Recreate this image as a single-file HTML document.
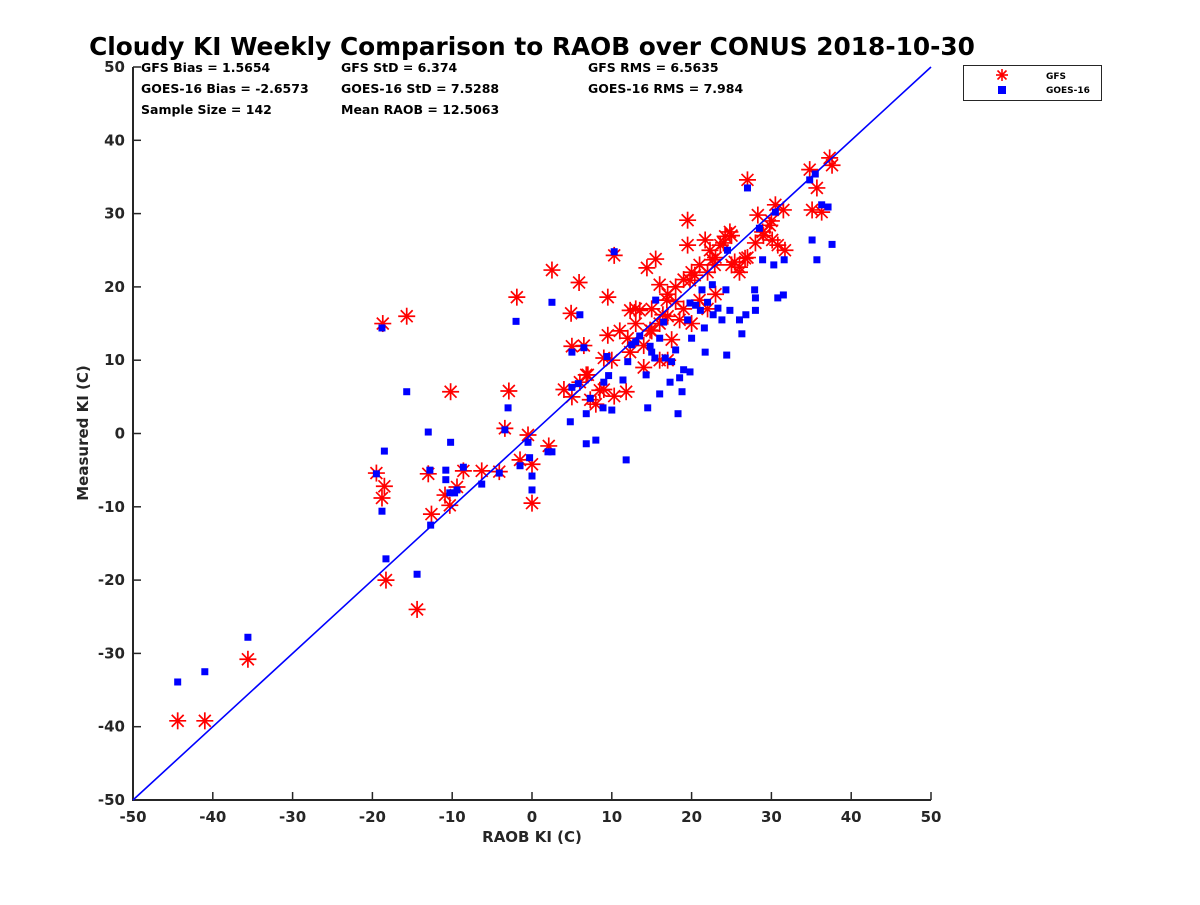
<!DOCTYPE html>
<html><head><meta charset="utf-8"><style>
body{margin:0;background:#fff;}
svg text{font-family:"DejaVu Sans","Liberation Sans",sans-serif;font-weight:bold;}
</style></head><body>
<svg id="chart" width="1200" height="900" xmlns="http://www.w3.org/2000/svg">
<rect width="1200" height="900" fill="#fff"/>
<text x="532" y="55" text-anchor="middle" font-size="24.8" fill="#000">Cloudy KI Weekly Comparison to RAOB over CONUS 2018-10-30</text>
<g font-size="12.5" fill="#000">
<text x="141" y="72">GFS Bias = 1.5654</text>
<text x="141" y="93">GOES-16 Bias = -2.6573</text>
<text x="141" y="114">Sample Size = 142</text>
<text x="341" y="72">GFS StD = 6.374</text>
<text x="341" y="93">GOES-16 StD = 7.5288</text>
<text x="341" y="114">Mean RAOB = 12.5063</text>
<text x="588" y="72">GFS RMS = 6.5635</text>
<text x="588" y="93">GOES-16 RMS = 7.984</text>
</g>
<g id="axes"></g>
<g id="marks"></g>
<g>
<rect x="963.5" y="65.5" width="138" height="35" fill="#fff" stroke="#262626" stroke-width="1"/>
<g stroke="red" stroke-width="1.6"><line x1="1002" y1="69" x2="1002" y2="81"/><line x1="996" y1="75" x2="1008" y2="75"/><line x1="997.5" y1="70.5" x2="1006.5" y2="79.5"/><line x1="997.5" y1="79.5" x2="1006.5" y2="70.5"/></g>
<rect x="998" y="86" width="8" height="8" fill="#0000ff"/>
<text x="1046" y="79" font-size="9">GFS</text>
<text x="1046" y="93" font-size="9">GOES-16</text>
</g>
</svg>
<script>
const xTicks=[-50,-40,-30,-20,-10,0,10,20,30,40,50];
const yTicks=[-50,-40,-30,-20,-10,0,10,20,30,40,50];
const gfsX=[-44.4,-41,-35.6,-14.4,-18.3,-18.7,-15.7,-10.2,-19.5,-18.5,-18.8,-13,-12.6,-10.9,-10.3,-9.4,-8.6,-6.3,-4.1,-3.4,-2.9,-1.9,-1.5,-0.5,0,0,2.1,2.5,4.9,5,5.9,6.5,6.8,7.3,8.5,9,9.5,9.5,10.3,10.3,11.8,12.3,12.3,13.5,14.4,14.8,15.5,16,16.4,16.9,17.5,18.5,19.5,19.5,19.8,20.4,21,21.7,22.3,22.6,22.9,23.6,24.2,24.8,25.4,26,26.7,27,28.3,28.9,29.8,30.1,30.5,30.8,31.5,31.7,34.8,35.1,35.7,36.3,37.3,37.6,20,18,16,17,14,15,19,22,23,25,13,11,9,8,12,18,24,27,30,14,16,17,6,7,4,5,19,21,20,22,23,25,26,28,29,15,17,13,10];
const gfsY=[-39.2,-39.2,-30.8,-24,-20,15,16,5.7,-5.4,-7.2,-8.8,-5.5,-11,-8.4,-9.8,-7.3,-5.1,-5.1,-5.2,0.7,5.8,18.6,-3.6,-0.2,-4.2,-9.5,-1.7,22.3,16.4,11.9,20.6,12,8,4.6,5.9,10.3,18.6,13.4,24.3,5.1,5.7,11.1,16.8,16.8,22.6,14.1,23.8,20.3,16.2,18.2,12.8,15.5,29.1,25.7,20.9,21.6,18.2,26.4,25,23.7,23,25.7,26.9,27.5,23.4,22.7,23.9,34.6,29.8,27.5,28.4,26.4,31.2,25.7,30.5,25,36,30.5,33.5,30.2,37.6,36.6,22,18,15,16,12,14,17,22,24,27,17,14,6,4,13,20,26,24,29,9,10,10,7,8,6,5,21,23,15,17,19,23,22,26,27,17,19,15,10];
const goesX=[-44.4,-41,-35.6,-14.4,-18.3,-18.8,-15.7,-13,-18.5,-19.5,-18.8,-12.7,-12.8,-10.8,-10.8,-10.2,-10.3,-9.7,-9.4,-8.6,-6.3,-4.1,-3.4,-3,-2,-1.5,-0.5,-0.3,0,0,2,2.5,2.5,4.8,5,5,6,5.8,6.5,6.8,6.8,7.3,8,8.9,9,9.4,9.6,10,10.3,11.4,11.8,12,12.5,13,13.5,14.3,14.5,14.8,15,15.4,15.5,16,16,16.5,16.7,17.3,17.5,18,18.3,18.5,18.8,19,19.5,19.8,20,19.8,20.5,21.1,21.3,21.6,21.7,22,22.6,22.7,23.3,23.8,24.3,24.4,24.5,24.8,26,26.3,26.8,27,27.9,28,28,28.5,28.9,30.3,30.5,30.8,31.5,31.6,34.8,35.1,35.5,35.7,36.3,37.1,37.6];
const goesY=[-33.9,-32.5,-27.8,-19.2,-17.1,14.4,5.7,0.2,-2.4,-5.5,-10.6,-12.5,-5,-6.3,-5,-1.2,-8.1,-8.1,-7.7,-4.6,-6.9,-5.4,0.5,3.5,15.3,-4.4,-1.2,-3.3,-5.8,-7.7,-2.5,-2.5,17.9,1.6,6.3,11.1,16.2,6.8,11.7,2.7,-1.4,4.8,-0.9,3.5,7,10.5,7.9,3.2,24.8,7.3,-3.6,9.8,12.1,12.5,13.3,8,3.5,11.9,11.1,10.3,18.2,5.4,13,15.2,10.3,7,9.8,11.4,2.7,7.6,5.7,8.7,15.5,17.8,13,8.4,17.5,16.8,19.6,14.4,11.1,17.9,20.3,16.2,17.1,15.5,19.6,10.7,25,16.8,15.5,13.6,16.2,33.5,19.6,18.5,16.8,28,23.7,23,30.2,18.5,18.9,23.7,34.6,26.4,35.4,23.7,31.2,30.9,25.8];

const NS='http://www.w3.org/2000/svg';
const X0=133,X1=931,Y0=800,Y1=67;
function sx(v){return X0+(v+50)/100*(X1-X0);}
function sy(v){return Y0-(v+50)/100*(Y0-Y1);}
function mk(tag,attrs,parent){const e=document.createElementNS(NS,tag);for(const k in attrs)e.setAttribute(k,attrs[k]);parent.appendChild(e);return e;}
const axes=document.getElementById('axes'),marks=document.getElementById('marks');
xTicks.forEach(t=>{
  let l=mk('line',{x1:sx(t),y1:Y0,x2:sx(t),y2:Y0-8,stroke:'#262626','stroke-width':1.5},axes);
  
  
  let tx=mk('text',{x:sx(t),y:Y0+22,'text-anchor':'middle','font-size':15,fill:'#262626'},axes);
  tx.textContent=t;
  
  
});
yTicks.forEach(t=>{
  let l=mk('line',{x1:X0,y1:sy(t),x2:X0+8,y2:sy(t),stroke:'#262626','stroke-width':1.5},axes);
  
  
  let tx=mk('text',{x:X0-8,y:sy(t)+5,'text-anchor':'end','font-size':15,fill:'#262626'},axes);
  tx.textContent=t;
  
  
});
let xa=mk('line',{x1:X0-1,y1:Y0,x2:X1,y2:Y0,stroke:'#262626','stroke-width':2},axes);


let ya=mk('line',{x1:X0,y1:Y0+1,x2:X0,y2:Y1,stroke:'#262626','stroke-width':2},axes);


let xl=mk('text',{x:532,y:842,'text-anchor':'middle','font-size':15,fill:'#262626'},axes);
xl.textContent='RAOB KI (C)';


let yl=mk('text',{x:88,y:433,'text-anchor':'middle','font-size':15,fill:'#262626',transform:'rotate(-90 88 433)'},axes);
yl.textContent='Measured KI (C)';


gfsX.forEach((x,i)=>{
  const cx=sx(x),cy=sy(gfsY[i]),r=8.5;
  const g=mk('g',{stroke:'red','stroke-width':1.7},marks);
  
  
  mk('line',{x1:cx,y1:cy-r,x2:cx,y2:cy+r},g);
  mk('line',{x1:cx-r,y1:cy,x2:cx+r,y2:cy},g);
  mk('line',{x1:cx-r*.7,y1:cy-r*.7,x2:cx+r*.7,y2:cy+r*.7},g);
  mk('line',{x1:cx-r*.7,y1:cy+r*.7,x2:cx+r*.7,y2:cy-r*.7},g);
});
goesX.forEach((x,i)=>{
  const s=mk('rect',{x:sx(x)-3.5,y:sy(goesY[i])-3.5,width:7,height:7,fill:'#0000ff'},marks);
  
  
});
let ref=mk('line',{x1:sx(-50),y1:sy(-50),x2:sx(50),y2:sy(50),stroke:'#0000ff','stroke-width':1.6},marks);


</script>
</body></html>
